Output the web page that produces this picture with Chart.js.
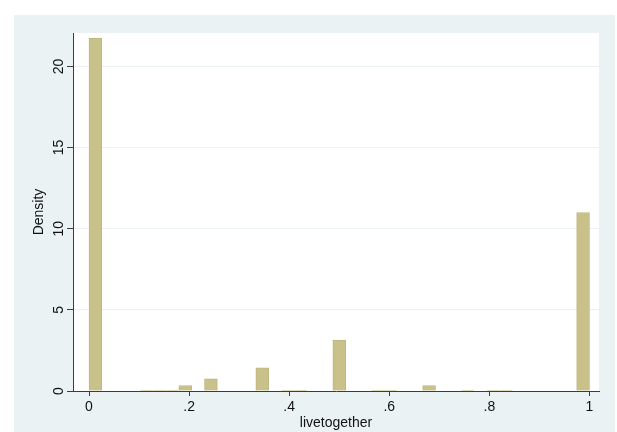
<!DOCTYPE html>
<html>
<head>
<meta charset="utf-8">
<script src="https://cdn.jsdelivr.net/npm/chart.js@4"></script>
<style>
  html, body { margin: 0; padding: 0; background: #fff; }
  #wrap { width: 617px; height: 432px; }
</style>
</head>
<body>
<div id="wrap"><canvas id="histChart" width="617" height="432"></canvas></div>
<script>
// Histogram of livetogether: 39 equal bins from 0 to 1
const binStart = 0;
const binEnd = 1;
const densities = [
    21.73, 0, 0, 0, 0.06, 0.06, 0.06, 0.34, 0, 0.75,
    0, 0, 0, 1.43, 0, 0.06, 0.06, 0, 0, 3.13,
    0, 0, 0.06, 0.06, 0, 0, 0.34, 0, 0, 0.06,
    0, 0.06, 0.06, 0, 0, 0, 0, 0, 11.0
];
const xTickValues = [0, 0.2, 0.4, 0.6, 0.8, 1];
const xTickLabels = ['0', '.2', '.4', '.6', '.8', '1'];
const yTickValues = [0, 5, 10, 15, 20];
const yTickLabels = ['0', '5', '10', '15', '20'];

const binWidth = (binEnd - binStart) / densities.length;
const FONT = '"Liberation Sans", Arial, Helvetica, sans-serif';
const regionColor = 'rgb(234, 242, 243)';
const axisColor = '#3c3c3c';
const textColor = '#111';

// Stata-like backdrop: white page, bluish graph region, white plot region
const backdrop = {
    id: 'backdrop',
    beforeDraw(chart) {
        const ctx = chart.ctx;
        const a = chart.chartArea;
        ctx.save();
        ctx.fillStyle = '#fff';
        ctx.fillRect(0, 0, chart.width, chart.height);
        ctx.fillStyle = regionColor;
        ctx.fillRect(14, 15, chart.width - 16, chart.height - 15);
        ctx.fillStyle = '#fff';
        ctx.fillRect(a.left, a.top, a.right - a.left, a.bottom - a.top);
        ctx.restore();
    }
};

// Rotated y tick labels, placed through the y scale
const yLabels = {
    id: 'yLabels',
    afterDraw(chart) {
        const ctx = chart.ctx;
        const y = chart.scales.y;
        ctx.save();
        ctx.font = '14px ' + FONT;
        ctx.fillStyle = textColor;
        ctx.textAlign = 'center';
        ctx.textBaseline = 'middle';
        yTickValues.forEach((v, i) => {
            ctx.save();
            ctx.translate(59, y.getPixelForValue(v));
            ctx.rotate(-Math.PI / 2);
            ctx.fillText(yTickLabels[i], 0, 0);
            ctx.restore();
        });
        ctx.restore();
    }
};

new Chart(document.getElementById('histChart'), {
    type: 'bar',
    data: {
        datasets: [{
            data: densities.map((d, i) => ({ x: binStart + (i + 0.5) * binWidth, y: d })),
            backgroundColor: 'rgb(200, 193, 137)',
            borderColor: 'rgb(190, 183, 126)',
            borderWidth: 1,
            barPercentage: 1,
            categoryPercentage: 1
        }]
    },
    options: {
        responsive: false,
        animation: false,
        devicePixelRatio: 1,
        layout: { padding: { left: 0, top: 33, right: 18, bottom: 0 } },
        plugins: {
            legend: { display: false },
            tooltip: { enabled: false }
        },
        scales: {
            x: {
                type: 'linear',
                offset: false,
                min: -0.032,
                max: 1.019,
                afterBuildTicks: s => { s.ticks = xTickValues.map(v => ({ value: v })); },
                afterFit: s => { s.height = 41; },
                ticks: {
                    callback: v => xTickLabels[xTickValues.indexOf(v)],
                    color: textColor,
                    font: { family: FONT, size: 14 },
                    padding: 3,
                    maxRotation: 0,
                    autoSkip: false
                },
                grid: { offset: false, drawOnChartArea: false, drawTicks: true, tickLength: 5, tickColor: axisColor },
                border: { display: true, color: axisColor, width: 1 },
                title: {
                    display: true,
                    text: 'livetogether',
                    color: textColor,
                    font: { family: FONT, size: 14 },
                    padding: { top: 0, bottom: 0 }
                }
            },
            y: {
                min: 0,
                max: 22.06,
                afterBuildTicks: s => { s.ticks = yTickValues.map(v => ({ value: v })); },
                afterFit: s => { s.width = 73; },
                ticks: { display: false },
                grid: {
                    offset: false,
                    color: c => (c.tick && c.tick.value === 0) ? 'rgba(0,0,0,0)' : regionColor,
                    drawTicks: true,
                    tickLength: 6,
                    tickColor: axisColor
                },
                border: { display: true, color: axisColor, width: 1 },
                title: {
                    display: true,
                    text: 'Density',
                    color: textColor,
                    font: { family: FONT, size: 14 },
                    padding: { top: 31, bottom: 0 }
                }
            }
        }
    },
    plugins: [backdrop, yLabels]
});
</script>
</body>
</html>
